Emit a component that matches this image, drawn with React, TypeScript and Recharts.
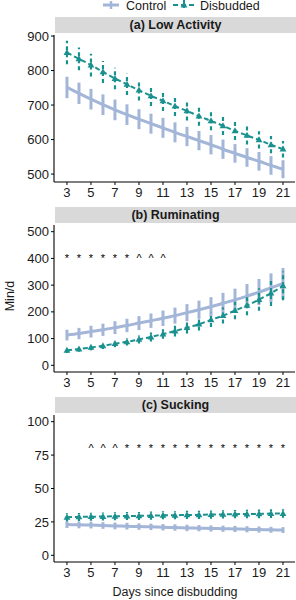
import { ComposedChart, ErrorBar, Line, Scatter, XAxis, YAxis } from "recharts";

const FONT = "'Liberation Sans', Arial, Helvetica, sans-serif";
const CONTROL = "#a3b6d8";
const DISBUDDED = "#1b918f";
const INK = "#1a1a1a";

const days = [3, 4, 5, 6, 7, 8, 9, 10, 11, 12, 13, 14, 15, 16, 17, 18, 19, 20, 21];
const dayTicks = [3, 5, 7, 9, 11, 13, 15, 17, 19, 21];

// (a) Low Activity, min/d
const lowControl = [751, 734, 717, 701, 686, 672, 659, 646, 634, 621, 609, 597, 585, 572, 560, 548, 537, 525, 514];
const lowControlErr = [31, 31, 30, 30, 30, 30, 29, 29, 29, 29, 28, 28, 28, 28, 27, 27, 27, 27, 26];
const lowDisbudded = [852, 834, 816, 796, 777, 760, 743, 727, 712, 697, 683, 668, 654, 640, 625, 612, 599, 585, 572];
const lowDisbuddedErr = [34, 33, 33, 32, 31, 31, 30, 30, 29, 29, 28, 28, 27, 27, 26, 26, 25, 25, 24];
const lowTicks = [500, 600, 700, 800, 900];

// (b) Ruminating, min/d
const rumControl = [113, 119, 126, 133, 141, 149, 158, 167, 176, 186, 197, 208, 219, 232, 245, 259, 274, 290, 306];
const rumControlErr = [20, 21, 22, 23, 24, 25, 26, 27, 29, 30, 32, 34, 36, 39, 42, 45, 49, 54, 58];
const rumDisbudded = [56, 61, 67, 73, 81, 88, 97, 106, 117, 128, 141, 154, 170, 186, 205, 224, 246, 270, 297];
const rumDisbuddedErr = [10, 10, 11, 12, 13, 14, 15, 17, 18, 20, 22, 24, 27, 30, 33, 37, 42, 48, 54];
const rumTicks = [0, 100, 200, 300, 400, 500];
const rumMarkDays = [3, 4, 5, 6, 7, 8, 9, 10, 11];
const rumMarks = ["*", "*", "*", "*", "*", "*", "^", "^", "^"];

// (c) Sucking, min/d
const suckControl = [23.0, 22.8, 22.6, 22.3, 22.0, 21.8, 21.5, 21.3, 21.0, 20.8, 20.5, 20.3, 20.1, 19.9, 19.7, 19.5, 19.3, 19.1, 18.9];
const suckControlErr = [2.6, 2.6, 2.5, 2.5, 2.5, 2.5, 2.4, 2.4, 2.4, 2.4, 2.4, 2.3, 2.3, 2.3, 2.3, 2.3, 2.3, 2.2, 2.2];
const suckDisbudded = [28.5, 28.7, 28.9, 29.0, 29.2, 29.4, 29.5, 29.7, 29.9, 30.0, 30.2, 30.3, 30.5, 30.6, 30.8, 30.9, 31.0, 31.2, 31.3];
const suckDisbuddedErr = [3.0, 3.0, 3.0, 3.0, 3.0, 3.0, 3.0, 3.0, 3.0, 3.0, 3.1, 3.1, 3.1, 3.1, 3.1, 3.2, 3.2, 3.2, 3.2];
const suckTicks = [0, 25, 50, 75, 100];
const suckMarkDays = [5, 6, 7, 8, 9, 10, 11, 12, 13, 14, 15, 16, 17, 18, 19, 20, 21];
const suckMarks = ["^", "^", "^", "*", "*", "*", "*", "*", "*", "*", "*", "*", "*", "*", "*", "*", "*"];

type Row = { day: number; ctrl: number; ctrlErr: number; dis: number; disErr: number };
type Mark = { day: number; y: number; mark: string };

function buildRows(ctrl: number[], ctrlErr: number[], dis: number[], disErr: number[]): Row[] {
  return days.map((day, i) => ({ day, ctrl: ctrl[i], ctrlErr: ctrlErr[i], dis: dis[i], disErr: disErr[i] }));
}

function buildMarks(markDays: number[], marks: string[], y: number): Mark[] {
  return markDays.map((day, i) => ({ day, y, mark: marks[i] }));
}

const Triangle = (props: any) => {
  const { cx, cy } = props;
  if (cx == null || cy == null) return null;
  return (
    <polygon
      points={`${cx},${cy - 3.6} ${cx - 3.4},${cy + 2.4} ${cx + 3.4},${cy + 2.4}`}
      fill={DISBUDDED}
    />
  );
};

// significance symbols drawn as plain text at each scattered point
const MarkText = (props: any) => {
  const { cx, cy, payload } = props;
  return (
    <text
      x={cx}
      y={cy + 6.5}
      textAnchor="middle"
      fontSize={11}
      fontFamily={FONT}
      style={{ fill: "#000", stroke: "none" }}
    >
      {payload.mark}
    </text>
  );
};

type PanelProps = {
  title: string;
  top: number;
  rows: Row[];
  domain: [number, number];
  ticks: number[];
  marks?: Mark[];
};

const PLOT_H = 147;
const AXIS_H = 24;
const PAD_TOP = 8;

function Panel({ title, top, rows, domain, ticks, marks }: PanelProps) {
  const tickStyle = { fontSize: 13, fill: INK, fontFamily: FONT };
  return (
    <>
      <div
        style={{
          position: "absolute",
          left: 55,
          top,
          width: 241,
          height: 16,
          background: "#d9d9d9",
          font: `bold 12.5px ${FONT}`,
          color: INK,
          textAlign: "center",
          lineHeight: "16px",
        }}
      >
        {title}
      </div>
      <div style={{ position: "absolute", left: 0, top: top + 18 - PAD_TOP }}>
        <ComposedChart
          width={296}
          height={PLOT_H + AXIS_H + PAD_TOP}
          data={rows}
          margin={{ top: PAD_TOP, right: 1, bottom: 0, left: 0 }}
        >
          <XAxis
            dataKey="day"
            type="number"
            domain={[1.92, 22]}
            ticks={dayTicks}
            height={AXIS_H}
            tickSize={3}
            tickMargin={3}
            tick={tickStyle}
            axisLine={{ stroke: "#000", strokeWidth: 1.1 }}
            tickLine={{ stroke: "#000" }}
            interval={0}
          />
          <YAxis
            type="number"
            domain={domain}
            ticks={ticks}
            width={54}
            tickSize={3}
            tickMargin={2}
            tick={tickStyle}
            axisLine={{ stroke: "#000", strokeWidth: 1.1 }}
            tickLine={{ stroke: "#000" }}
            interval={0}
            allowDataOverflow
          />
          <Line
            dataKey="ctrl"
            type="monotone"
            stroke={CONTROL}
            strokeWidth={3}
            dot={false}
            isAnimationActive={false}
          >
            <ErrorBar dataKey="ctrlErr" width={0} stroke={CONTROL} strokeWidth={3} />
          </Line>
          <Line
            dataKey="dis"
            type="monotone"
            stroke={DISBUDDED}
            strokeWidth={2}
            strokeDasharray="5 3"
            dot={<Triangle />}
            isAnimationActive={false}
          >
            <ErrorBar dataKey="disErr" width={0} stroke={DISBUDDED} strokeWidth={2.2} strokeDasharray="4 3" />
          </Line>
          {marks && (
            <Scatter
              data={marks}
              dataKey="y"
              fill="#000"
              shape={<MarkText />}
              isAnimationActive={false}
            />
          )}
        </ComposedChart>
      </div>
    </>
  );
}

function LegendBar() {
  return (
    <svg width={296} height={14} style={{ position: "absolute", left: 0, top: 0 }}>
      <line x1={103} x2={119} y1={5} y2={5} stroke={CONTROL} strokeWidth={3} />
      <line x1={111} x2={111} y1={1} y2={9} stroke={CONTROL} strokeWidth={2.5} />
      <text x={126} y={10} fontSize={12.5} fontFamily={FONT} fill={INK}>
        Control
      </text>
      <line x1={173} x2={195} y1={5} y2={5} stroke={DISBUDDED} strokeWidth={2} strokeDasharray="5 3" />
      <line x1={184} x2={184} y1={0} y2={10} stroke={DISBUDDED} strokeWidth={2} strokeDasharray="3 2" />
      <polygon points="184,1.5 180.6,7.5 187.4,7.5" fill={DISBUDDED} />
      <text x={200} y={10} fontSize={12.5} fontFamily={FONT} fill={INK}>
        Disbudded
      </text>
    </svg>
  );
}

export default function App() {
  const lowRows = buildRows(lowControl, lowControlErr, lowDisbudded, lowDisbuddedErr);
  const rumRows = buildRows(rumControl, rumControlErr, rumDisbudded, rumDisbuddedErr);
  const suckRows = buildRows(suckControl, suckControlErr, suckDisbudded, suckDisbuddedErr);

  return (
    <div
      style={{
        position: "absolute",
        left: 0,
        top: 0,
        width: 296,
        height: 600,
        background: "#fff",
        fontFamily: FONT,
        overflow: "hidden",
      }}
    >
      <LegendBar />
      <Panel title="(a) Low Activity" top={17} rows={lowRows} domain={[477, 903]} ticks={lowTicks} />
      <Panel
        title="(b) Ruminating"
        top={207}
        rows={rumRows}
        domain={[-25, 525]}
        ticks={rumTicks}
        marks={buildMarks(rumMarkDays, rumMarks, 410)}
      />
      <Panel
        title="(c) Sucking"
        top={397}
        rows={suckRows}
        domain={[-5, 105]}
        ticks={suckTicks}
        marks={buildMarks(suckMarkDays, suckMarks, 82)}
      />
      <div
        style={{
          position: "absolute",
          left: 10,
          top: 296,
          transform: "translate(-50%, -50%) rotate(-90deg)",
          fontSize: 12.5,
          color: INK,
          whiteSpace: "nowrap",
        }}
      >
        Min/d
      </div>
      <div
        style={{
          position: "absolute",
          left: 175,
          top: 592,
          transform: "translate(-50%, -50%)",
          fontSize: 12.5,
          color: INK,
          whiteSpace: "nowrap",
        }}
      >
        Days since disbudding
      </div>
    </div>
  );
}
